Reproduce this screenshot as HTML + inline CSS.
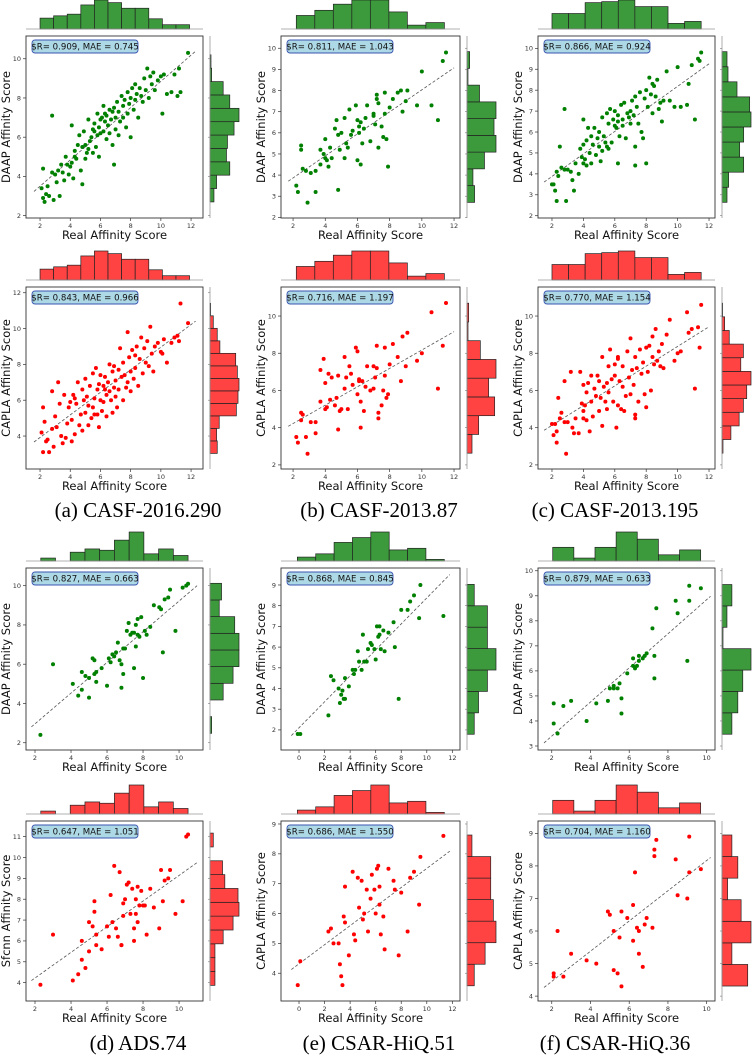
<!DOCTYPE html>
<html><head><meta charset="utf-8"><style>
html,body{margin:0;padding:0;background:#fff;width:752px;height:1055px;overflow:hidden;}
svg{display:block;overflow:hidden;font-family:"DejaVu Sans","Liberation Sans",sans-serif;}
.cap{font-family:"Liberation Serif",serif;font-size:21px;fill:#000;}
</style></head><body>
<svg id="fig" width="752" height="1055" viewBox="0 0 752 1055">
<text class="cap" x="138" y="517" text-anchor="middle">(a) CASF-2016.290</text>
<text class="cap" x="379" y="517" text-anchor="middle">(b) CASF-2013.87</text>
<text class="cap" x="615" y="517" text-anchor="middle">(c) CASF-2013.195</text>
<text class="cap" x="138" y="1050" text-anchor="middle">(d) ADS.74</text>
<text class="cap" x="379" y="1050" text-anchor="middle">(e) CSAR-HiQ.51</text>
<text class="cap" x="615" y="1050" text-anchor="middle">(f) CSAR-HiQ.36</text>
</svg>
<script>
// ---- data ----
const realA=[2.1,2.2,2.2,2.3,2.4,2.5,2.6,2.8,2.8,2.9,3.0,3.1,3.2,3.3,3.4,3.5,3.6,3.7,3.8,3.9,4.0,4.1,4.1,4.2,4.3,4.4,4.5,4.6,4.7,4.8,4.8,4.9,5.0,5.0,5.1,5.2,5.2,5.3,5.4,5.5,5.5,5.6,5.7,5.8,5.8,5.9,5.9,6.0,6.0,6.1,6.2,6.2,6.3,6.4,6.4,6.5,6.6,6.6,6.7,6.8,6.8,6.9,6.9,7.0,7.0,7.1,7.2,7.2,7.3,7.4,7.5,7.5,7.6,7.7,7.8,7.8,7.9,8.0,8.0,8.1,8.2,8.3,8.3,8.4,8.5,8.6,8.7,8.8,8.9,9.0,9.1,9.2,9.3,9.4,9.5,9.6,9.8,10.0,10.1,10.2,10.4,10.7,10.9,11.1,11.2,11.3,11.8,4.3,5.6,6.3];
const daapA=[3.4,2.9,4.4,2.7,3.1,3.5,3.0,7.1,4.2,2.8,4.1,3.7,4.3,3.0,4.6,4.2,3.8,5.0,4.6,4.1,4.5,6.6,4.7,3.9,5.3,4.9,5.6,6.1,4.3,3.6,5.5,6.3,4.9,5.6,5.2,6.9,5.4,5.8,6.0,5.2,6.4,6.7,5.5,6.1,7.2,6.5,5.0,6.9,6.2,7.0,7.6,6.3,6.8,7.1,5.9,6.6,7.4,6.2,6.9,7.3,5.6,4.6,7.5,6.4,7.0,7.8,6.1,7.3,6.8,8.1,7.0,7.6,7.9,6.5,8.3,7.2,7.7,8.0,6.0,8.5,7.4,8.7,7.9,8.2,7.0,8.5,8.1,7.8,9.0,8.4,9.5,8.0,9.1,8.7,9.3,8.4,8.9,9.1,7.2,9.2,8.2,8.3,9.2,8.1,9.5,8.3,10.3,5.0,6.3,7.2];
const caplaA=[4.2,3.1,5.6,4.8,3.7,3.8,3.1,6.5,4.4,3.4,5.1,4.5,7.0,5.8,4.0,3.6,6.3,3.9,4.7,5.6,5.9,4.9,3.7,6.3,4.1,5.8,7.0,4.6,5.2,6.6,4.3,6.0,5.3,7.2,6.2,5.7,4.6,6.8,5.0,7.5,5.6,6.1,7.8,5.2,6.6,6.9,4.5,6.0,7.4,5.4,6.8,5.9,7.3,6.3,5.1,7.0,6.5,8.0,6.0,7.6,5.3,6.7,7.9,6.2,7.1,5.6,7.7,6.6,8.9,7.3,6.0,8.1,7.4,6.7,9.8,7.0,8.4,7.6,6.5,8.8,7.2,8.5,7.8,9.0,6.8,8.3,9.5,7.5,8.9,8.1,9.3,7.9,10.1,8.6,7.6,9.0,9.2,8.7,8.6,9.4,8.1,9.2,9.5,9.6,9.3,11.4,10.3,6.1,5.2,6.6];
const realB=[2.2,2.3,2.5,2.5,2.6,2.8,2.9,3.1,3.4,3.4,3.7,3.7,4.0,4.0,4.1,4.2,4.3,4.6,4.7,4.8,4.8,4.9,5.2,5.2,5.3,5.4,5.5,5.6,5.7,5.9,6.0,6.0,6.1,6.1,6.2,6.2,6.3,6.4,6.6,6.8,7.0,7.1,7.2,7.2,7.3,7.3,7.5,7.6,7.7,7.7,7.8,7.9,8.0,8.2,8.5,8.7,8.8,9.1,9.7,10.0,10.6,11.0,11.3,11.5,5.0,6.5,7.0,4.4,3.9,9.0];
const daapB=[3.5,3.2,5.4,5.2,4.3,4.2,2.7,4.1,4.2,3.2,4.5,5.2,4.8,5.7,4.7,4.4,5.3,6.2,6.6,3.3,5.9,5.2,6.7,4.8,5.5,5.3,7.1,5.9,6.1,7.3,6.6,4.7,6.3,6.0,4.5,6.5,5.5,6.2,7.3,5.6,6.9,6.4,7.6,7.8,5.3,7.4,6.3,5.8,7.9,6.9,5.7,4.4,7.2,7.6,7.9,8.0,7.0,8.0,7.3,8.9,7.3,6.6,9.4,9.8,6.0,6.7,6.8,4.8,5.0,7.5];
const caplaB=[3.5,3.2,4.8,4.4,4.7,3.5,2.6,4.3,4.3,3.7,7.1,5.4,6.4,5.0,5.1,6.9,5.5,5.2,5.6,3.9,6.8,4.9,7.8,6.1,6.7,5.0,7.3,6.9,6.3,8.3,5.8,8.1,6.5,6.6,5.4,4.0,6.5,4.9,7.3,6.0,6.1,6.7,8.4,7.2,4.8,4.5,5.2,6.0,8.3,6.8,5.6,5.8,7.4,8.5,7.8,6.5,8.9,9.1,7.6,8.0,10.2,6.1,8.4,10.7,5.0,6.2,7.3,6.7,7.7,7.3];
const realC=[2.0,2.1,2.2,2.3,2.3,2.4,2.5,2.6,2.8,2.9,3.0,3.2,3.3,3.4,3.5,3.7,3.8,3.9,4.0,4.0,4.1,4.2,4.2,4.3,4.4,4.5,4.5,4.6,4.7,4.8,4.9,5.0,5.0,5.1,5.2,5.2,5.3,5.4,5.5,5.6,5.6,5.7,5.8,5.9,6.0,6.0,6.1,6.2,6.2,6.3,6.4,6.5,6.5,6.6,6.7,6.8,6.9,7.0,7.0,7.1,7.2,7.3,7.3,7.4,7.5,7.6,7.7,7.8,7.9,8.0,8.1,8.2,8.3,8.4,8.4,8.5,8.6,8.7,8.8,8.9,9.0,9.1,9.3,9.5,9.8,10.0,10.2,10.6,10.7,10.9,11.1,11.3,11.4,11.5,2.8,4.0,6.2,7.3,8.0,5.5];
const daapC=[3.5,3.5,3.2,2.7,4.1,3.9,5.3,4.3,7.1,2.7,4.2,4.1,3.7,3.2,4.5,4.0,5.2,4.8,6.6,5.4,4.7,5.6,4.4,6.2,5.0,5.8,4.5,5.4,6.2,4.9,5.7,5.3,6.0,4.6,6.7,5.1,5.8,5.5,6.9,5.2,6.4,7.1,5.5,6.6,6.3,7.0,6.2,4.5,6.8,5.8,7.3,6.3,6.6,7.4,5.7,6.9,6.7,7.0,6.4,7.5,6.8,7.7,5.3,7.2,6.4,7.9,6.0,5.7,7.6,8.0,7.2,8.6,7.8,8.3,6.9,8.2,7.7,8.5,7.1,7.4,6.5,7.5,8.9,7.5,7.2,9.1,7.2,7.3,8.3,9.2,6.6,9.5,9.4,9.8,4.2,4.5,6.5,4.4,4.5,5.3];
const caplaC=[4.2,3.6,4.2,3.8,3.2,5.6,4.5,4.8,6.5,2.6,4.3,7.0,4.0,3.7,4.5,3.7,7.0,5.3,6.3,4.5,5.2,5.9,4.4,6.4,3.8,5.4,6.8,4.6,6.1,5.7,6.8,4.9,6.5,5.6,7.8,4.1,6.2,5.4,6.4,7.3,5.9,8.2,6.6,5.4,7.4,6.8,4.0,5.2,7.7,6.5,5.0,7.3,6.2,4.9,5.7,8.1,6.7,8.8,5.8,7.1,6.3,7.8,4.5,7.2,5.4,8.2,6.9,7.5,5.8,8.3,7.0,8.4,6.0,8.9,7.8,7.4,9.3,7.6,8.1,7.3,8.5,7.2,9.0,9.8,7.6,8.0,8.1,10.2,9.1,9.3,6.1,9.4,8.3,10.6,4.3,4.9,7.8,4.7,5.1,5.0];
const realD=[2.3,3.0,4.1,4.4,4.6,4.6,4.8,5.0,5.0,5.2,5.3,5.3,5.4,5.7,6.0,6.1,6.2,6.3,6.4,6.5,6.6,6.7,6.8,6.8,6.9,6.9,7.0,7.1,7.2,7.3,7.4,7.5,7.5,7.6,7.6,7.7,7.7,7.8,7.9,8.0,8.1,8.2,8.4,8.6,8.9,9.0,9.1,9.2,9.4,9.5,9.8,10.2,10.4,10.5,5.4];
const daapD=[2.4,6.0,5.0,4.4,4.7,5.6,5.4,5.3,4.3,6.3,6.2,5.5,5.1,5.8,4.9,6.3,6.1,6.5,6.4,6.6,7.1,6.2,6.0,4.8,6.8,5.5,6.8,7.7,8.1,7.5,7.6,7.6,5.8,8.0,6.9,7.5,8.3,7.4,8.4,5.3,7.7,7.5,7.9,9.0,8.9,8.8,6.6,9.3,9.4,9.8,7.7,9.9,10.0,10.1,5.6];
const sfcnnD=[3.9,6.3,4.1,4.4,5.1,6.0,4.7,6.9,5.5,6.7,7.9,7.4,5.8,5.6,6.7,6.2,8.2,6.9,9.6,6.6,6.2,9.3,5.8,5.8,7.2,7.8,8.0,8.7,8.8,7.3,8.5,6.6,6.0,8.0,7.3,8.6,6.9,7.7,8.4,7.7,7.7,6.3,8.5,7.6,6.6,9.4,7.9,8.9,9.0,9.4,7.3,7.9,11.0,11.1,6.3];
const realE=[-0.1,0.1,2.3,2.5,2.7,3.1,3.2,3.3,3.4,3.5,3.6,3.6,3.9,4.2,4.3,4.4,4.6,4.7,4.9,5.0,5.1,5.3,5.4,5.6,5.7,5.9,6.0,6.1,6.2,6.3,6.3,6.4,6.6,6.7,7.0,7.4,7.5,7.8,8.0,8.5,8.7,9.0,9.4,9.5,11.3];
const daapE=[1.8,1.8,2.7,4.6,4.4,4.0,3.3,3.7,3.9,3.5,4.5,3.5,4.1,4.9,4.7,4.9,5.8,5.3,4.9,6.6,5.3,5.3,5.9,6.2,6.1,5.9,5.4,7.0,6.5,7.0,6.6,5.9,6.8,5.8,6.7,7.2,6.0,3.5,7.8,7.8,8.2,8.5,7.4,9.0,7.5];
const caplaE=[3.6,4.4,5.4,5.5,5.0,5.0,4.3,3.9,3.6,5.9,5.7,6.9,4.6,7.4,5.3,5.1,7.2,6.2,7.1,5.8,6.0,6.8,5.4,6.5,7.3,6.8,6.0,7.5,7.6,6.3,6.9,5.3,5.9,4.8,7.5,7.1,6.8,4.6,6.7,5.4,7.2,7.4,6.3,7.9,8.6];
const realF=[2.1,2.1,2.3,2.6,3.0,3.8,4.3,4.9,5.0,5.2,5.2,5.4,5.5,5.6,5.6,5.9,6.2,6.2,6.3,6.4,6.5,6.5,6.7,6.8,6.9,7.2,7.3,7.3,7.4,8.4,8.5,9.0,9.1,9.1,9.7];
const daapF=[3.9,4.7,3.5,4.6,4.8,4.0,4.7,4.8,5.3,5.4,5.3,5.3,5.5,4.3,4.9,5.9,6.2,6.5,6.1,6.2,6.6,6.4,6.5,6.6,6.7,7.7,6.6,5.7,8.5,8.8,8.3,6.4,8.8,9.4,9.3];
const caplaF=[4.7,4.6,6.0,4.6,5.3,5.1,5.0,6.6,6.5,4.8,6.0,4.7,5.8,6.6,4.3,6.4,5.7,6.8,7.8,6.1,5.3,6.0,4.9,6.2,6.4,6.1,8.5,8.3,8.8,8.2,7.1,7.0,8.9,7.8,7.9];
// histogram counts (top: real score bins, right: predicted bins, bottom->top)
const topHistA=[33,40,45,73,88,80,63,63,31,13,13];
const topHistB=[42,58,77,90,90,53,12,20];
const topHistC=[47,47,80,83,88,68,68,17,23];
const topHistD=[9,0,27,37,33,64,89,22,37,17];
const topHistE=[12,22,57,72,89,34,39,5];
const topHistF=[42,9,42,89,67,19,34];
const rightHistA1=[12,20,60,50,53,73,88,60,40,5,3];
const rightHistA2=[22,20,28,80,85,88,83,78,30,22,10,2];
const rightHistB1=[23,18,53,88,82,88,38,3,8];
const rightHistB2=[15,35,83,65,87,40,3,5];
const rightHistC1=[15,20,65,53,65,87,83,45,18,15];
const rightHistC2=[3,27,52,65,75,88,57,65,22,8,2];
const rightHistD1=[5,0,40,70,88,88,75,28,35];
const rightHistD2=[15,15,15,40,70,88,85,45,38,0,10];
const rightHistE1=[22,35,62,88,62,62,22];
const rightHistE2=[22,55,88,80,72,72,15];
const rightHistF1=[30,48,63,88,3,15,30];
const rightHistF2=[78,30,88,58,17,48,30];
const statR=["0.909","0.811","0.866","0.843","0.716","0.770","0.827","0.868","0.879","0.647","0.686","0.704"];
const statMAE=["0.745","1.043","0.924","0.966","1.197","1.154","0.663","0.845","0.633","1.051","1.550","1.160"];
const ticks2to12=[2,4,6,8,10,12];

// ---- layout ----
const NS="http://www.w3.org/2000/svg";
const svg=document.getElementById('fig');
const cols=[{x0:26,x1:203},{x0:281,x1:460},{x0:538,x1:715}];
const rows=[{y0:36,y1:218,xl:239},{y0:287,y1:469,xl:490},{y0:568,y1:750,xl:771},{y0:821,y1:1001,xl:1022}];
const GREEN={pt:"#008000",fill:"#3c9a3c"}, RED={pt:"#ff0000",fill:"#ff4242"};
const panels=[
 {r:0,c:0,x:realA,y:daapA,xd:[1.07,12.79],yd:[1.88,11.16],xt:ticks2to12,yt:[2,4,6,8,10],yl:"DAAP Affinity Score",col:GREEN,th:topHistA,tr:[2.0,11.9],rh:rightHistA1,rr:[2.7,10.2]},
 {r:0,c:1,x:realB,y:daapB,xd:[1.25,12.37],yd:[1.97,10.58],xt:ticks2to12,yt:[2,3,4,5,6,7,8,9,10],yl:"DAAP Affinity Score",col:GREEN,th:topHistB,tr:[2.2,11.4],rh:rightHistB1,rr:[2.71,9.84]},
 {r:0,c:2,x:realC,y:daapC,xd:[1.11,12.38],yd:[1.89,10.59],xt:ticks2to12,yt:[2,3,4,5,6,7,8,9,10],yl:"DAAP Affinity Score",col:GREEN,th:topHistC,tr:[2.0,11.5],rh:rightHistC1,rr:[2.64,9.84]},
 {r:1,c:0,x:realA,y:caplaA,xd:[1.07,12.79],yd:[2.16,12.32],xt:ticks2to12,yt:[4,6,8,10,12],yl:"CAPLA Affinity Score",col:RED,th:topHistA,tr:[2.0,11.9],rh:rightHistA2,rr:[3.03,11.41]},
 {r:1,c:1,x:realB,y:caplaB,xd:[1.25,12.37],yd:[1.78,11.56],xt:ticks2to12,yt:[2,4,6,8,10],yl:"CAPLA Affinity Score",col:RED,th:topHistB,tr:[2.2,11.4],rh:rightHistB2,rr:[2.63,10.69]},
 {r:1,c:2,x:realC,y:caplaC,xd:[1.11,12.38],yd:[1.78,11.56],xt:ticks2to12,yt:[2,4,6,8,10],yl:"CAPLA Affinity Score",col:RED,th:topHistC,tr:[2.0,11.5],rh:rightHistC2,rr:[2.63,10.69]},
 {r:2,c:0,x:realD,y:daapD,xd:[1.5,11.33],yd:[1.63,10.9],xt:[2,4,6,8,10],yt:[2,4,6,8,10],yl:"DAAP Affinity Score",col:GREEN,th:topHistD,tr:[2.32,10.5],rh:rightHistD1,rr:[2.48,10.12]},
 {r:2,c:1,x:realE,y:daapE,xd:[-1.41,12.6],yd:[1.03,9.82],xt:[0,2,4,6,8,10,12],yt:[2,3,4,5,6,7,8,9],yl:"DAAP Affinity Score",col:GREEN,th:topHistE,tr:[-0.13,11.37],rh:rightHistE1,rr:[1.79,9.03]},
 {r:2,c:2,x:realF,y:daapF,xd:[1.29,10.43],yd:[2.84,10.11],xt:[2,4,6,8,10],yt:[3,4,5,6,7,8,9,10],yl:"DAAP Affinity Score",col:GREEN,th:topHistF,tr:[2.05,9.69],rh:rightHistF1,rr:[3.47,9.45]},
 {r:3,c:0,x:realD,y:sfcnnD,xd:[1.5,11.33],yd:[3.12,11.75],xt:[2,4,6,8,10],yt:[4,5,6,7,8,9,10,11],yl:"Sfcnn Affinity Score",col:RED,th:topHistD,tr:[2.32,10.5],rh:rightHistD2,rr:[3.87,11.17]},
 {r:3,c:1,x:realE,y:caplaE,xd:[-1.41,12.6],yd:[3.07,9.1],xt:[0,2,4,6,8,10,12],yt:[4,5,6,7,8,9],yl:"CAPLA Affinity Score",col:RED,th:topHistE,tr:[-0.13,11.37],rh:rightHistE2,rr:[3.58,8.63]},
 {r:3,c:2,x:realF,y:caplaF,xd:[1.29,10.43],yd:[3.85,9.38],xt:[2,4,6,8,10],yt:[4,5,6,7,8,9],yl:"CAPLA Affinity Score",col:RED,th:topHistF,tr:[2.05,9.69],rh:rightHistF2,rr:[4.31,8.95]}
];
function mk(tag,attrs,parent){const e=document.createElementNS(NS,tag);for(const k in attrs)e.setAttribute(k,attrs[k]);(parent||svg).appendChild(e);return e;}
function fit(xs,ys){const n=xs.length;let mx=0,my=0;for(let i=0;i<n;i++){mx+=xs[i];my+=ys[i];}mx/=n;my/=n;let sxy=0,sxx=0;for(let i=0;i<n;i++){sxy+=(xs[i]-mx)*(ys[i]-my);sxx+=(xs[i]-mx)*(xs[i]-mx);}const b=sxy/sxx;return {a:my-b*mx,b:b};}

panels.forEach((p,i)=>{
 const C=cols[p.c],R=rows[p.r];
 const sx=v=>C.x0+(v-p.xd[0])/(p.xd[1]-p.xd[0])*(C.x1-C.x0);
 const sy=v=>R.y1-(v-p.yd[0])/(p.yd[1]-p.yd[0])*(R.y1-R.y0);
 const g=mk('g',{});
 
 
 // top histogram
 const base=R.y0-7, tmax=Math.max(...p.th), bw=(p.tr[1]-p.tr[0])/p.th.length;
 p.th.forEach((c,k)=>{
  const x0=sx(p.tr[0]+k*bw),x1=sx(p.tr[0]+(k+1)*bw),h=c/tmax*29;
  if(h<=0)return;
  const b=mk('rect',{x:x0,y:base-h,width:x1-x0,height:h,fill:p.col.fill,stroke:"#222","stroke-width":0.7},g);
  
  
 });
 mk('line',{x1:C.x0,x2:C.x1,y1:base,y2:base,stroke:"#999","stroke-width":0.8},g);
 // right histogram
 const sp=C.x1+7, rmax=Math.max(...p.rh), rw=(p.rr[1]-p.rr[0])/p.rh.length;
 p.rh.forEach((c,k)=>{
  const y0=sy(p.rr[0]+k*rw),y1=sy(p.rr[0]+(k+1)*rw),w=c/rmax*29;
  if(w<=0)return;
  const b=mk('rect',{x:sp,y:y1,width:w,height:y0-y1,fill:p.col.fill,stroke:"#222","stroke-width":0.7},g);
  
  
 });
 mk('line',{x1:sp,x2:sp,y1:R.y0,y2:R.y1,stroke:"#999","stroke-width":0.8},g);
 p.yt.forEach(t=>{const y=sy(t);mk('line',{x1:sp-2,x2:sp,y1:y,y2:y,stroke:"#777","stroke-width":0.6},g);});
 // axes box
 const box=mk('rect',{x:C.x0,y:R.y0,width:C.x1-C.x0,height:R.y1-R.y0,fill:"none",stroke:"#333","stroke-width":0.9},g);
 
 
 p.xt.forEach(t=>{const x=sx(t);mk('line',{x1:x,x2:x,y1:R.y1,y2:R.y1+3,stroke:"#333","stroke-width":0.7},g);
  const tl=mk('text',{x:x,y:R.y1+10,'font-size':6.5,'text-anchor':'middle',fill:'#333'},g);tl.textContent=t;
  
  });
 p.yt.forEach(t=>{const y=sy(t);mk('line',{x1:C.x0-3,x2:C.x0,y1:y,y2:y,stroke:"#333","stroke-width":0.7},g);
  const tl=mk('text',{x:C.x0-5,y:y+2.3,'font-size':6.5,'text-anchor':'end',fill:'#333'},g);tl.textContent=t;
  
  });
 // fitted trend line
 const f=fit(p.x,p.y);
 const lo=Math.min(...p.x)-0.5, hi=Math.max(...p.x)+0.5;
 const d=mk('line',{x1:sx(lo),y1:sy(f.a+f.b*lo),x2:sx(hi),y2:sy(f.a+f.b*hi),stroke:"#555","stroke-width":0.8,"stroke-dasharray":"3,2"},g);
 
 
 // points
 p.x.forEach((v,k)=>{
  const c=mk('circle',{cx:sx(v),cy:sy(p.y[k]),r:2,fill:p.col.pt},g);
  
  
 });
 // stats box
 const sb=mk('rect',{x:C.x0+6,y:R.y0+4,width:106,height:13,rx:3,fill:"#add8e6",stroke:"#3a55b0","stroke-width":0.9},g);
 
 
 const st=mk('text',{x:C.x0+59,y:R.y0+13.6,'font-size':8.6,'text-anchor':'middle',fill:'#111'},g);
 st.textContent="$R= "+statR[i]+", MAE = "+statMAE[i];
 
 
 // axis labels
 const xl=mk('text',{x:(C.x0+C.x1)/2,y:R.xl,'font-size':11.5,'text-anchor':'middle',fill:'#111'},g);
 xl.textContent="Real Affinity Score";
 
 
 const ym=(R.y0+R.y1)/2, yx=C.x0-16;
 const yl=mk('text',{x:yx,y:ym,'font-size':11.5,'text-anchor':'middle',fill:'#111',transform:`rotate(-90 ${yx} ${ym})`},g);
 yl.textContent=p.yl;
 
 
});
</script>
</body></html>
